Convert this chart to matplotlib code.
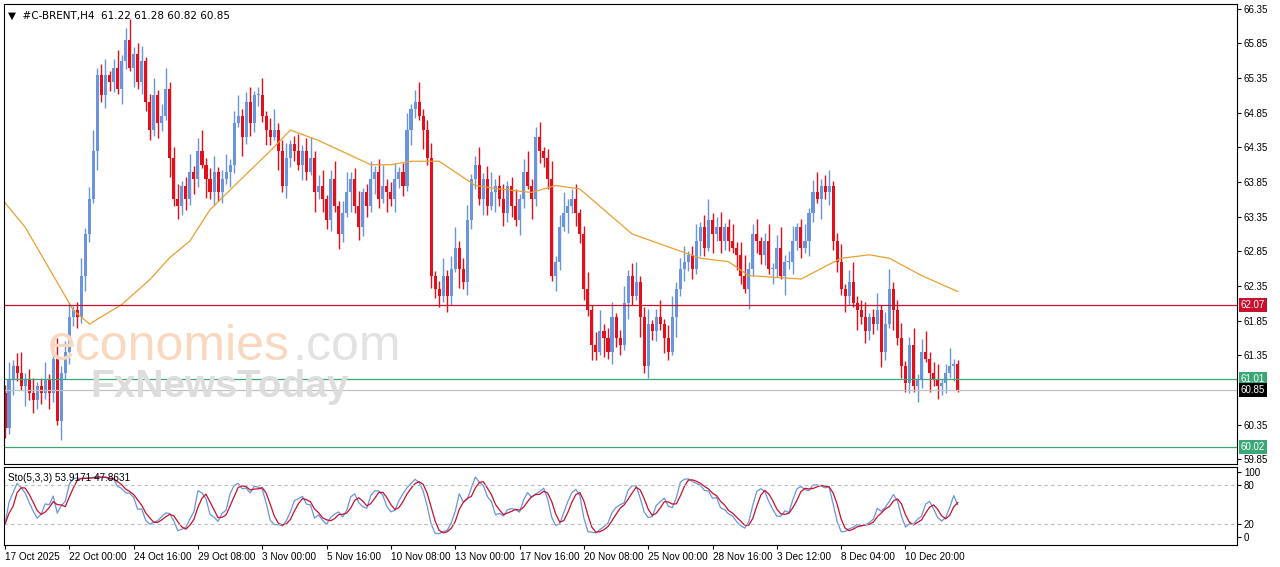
import numpy as np
import pandas as pd
import matplotlib
matplotlib.use("Agg")
import matplotlib.pyplot as plt
from matplotlib.patches import Rectangle

closes = [
    60.3, 61.0, 61.2, 61.1, 60.9, 61.0, 60.8, 60.7, 60.9, 60.8,
    61.0, 60.8, 61.3, 60.4, 61.1, 61.4, 61.9, 62.0, 61.9, 62.5,
    63.1, 63.6, 64.3, 65.4, 65.1, 65.4, 65.3, 65.5, 65.2, 65.6,
    65.9, 65.5, 65.7, 65.3, 65.6, 65.0, 64.6, 65.1, 64.7, 64.8, 65.2,
    64.2, 63.6, 63.5, 63.8, 63.6, 64.0, 63.9, 64.3, 64.1, 63.9,
    63.7, 64.0, 63.7, 63.9, 64.0, 64.1, 64.7, 64.8, 64.5, 65.0,
    64.7, 65.1, 65.1, 64.8, 64.6, 64.5, 64.6, 64.3, 63.8, 64.2,
    64.4, 64.3, 64.1, 64.3, 64.0, 64.2, 63.7, 63.8, 63.6, 63.3, 63.9,
    63.5, 63.1, 63.4, 63.7, 63.9, 63.5, 63.2, 63.7, 63.5, 63.9,
    64.0, 63.6, 63.8, 63.7, 63.6, 63.9, 64.0, 63.8, 64.6, 64.9,
    65.0, 64.8, 64.6, 64.2, 62.5, 62.3, 62.2, 62.5, 62.2, 62.6,
    62.9, 62.6, 62.4, 63.3, 63.9, 64.1, 63.6, 63.9, 63.5, 63.7, 63.8,
    63.6, 63.4, 63.8, 63.5, 63.3, 63.6, 64.0, 63.8, 63.6, 64.5,
    64.3, 64.2, 63.9, 62.5, 62.7, 63.2, 63.4, 63.5, 63.6, 63.4,
    63.1, 62.3, 62.0, 61.5, 61.4, 61.7, 61.6, 61.4, 61.9, 61.6,
    61.5, 62.1, 62.5, 62.2, 62.4, 61.9, 61.2, 61.8, 61.7, 61.9, 61.8,
    61.6, 61.4, 61.9, 62.3, 62.6, 62.7, 62.8, 62.6, 63.0, 63.2,
    62.9, 63.3, 63.1, 63.2, 63.0, 63.2, 63.0, 62.9, 62.8, 62.5,
    62.3, 62.6, 63.1, 63.0, 62.8, 63.0, 62.6, 62.6, 62.9, 62.5, 62.7,
    62.7, 63.0, 63.2, 62.9, 63.0, 63.4, 63.7, 63.6, 63.8, 63.7,
    63.8, 63.0, 62.7, 62.3, 62.2, 62.4, 62.1, 62.0, 61.9, 61.7,
    61.9, 61.8, 62.0, 61.4, 61.8, 62.3, 62.0, 61.6, 61.2, 60.95, 61.5,
    60.9, 61.0, 61.4, 61.3, 61.1, 61.0, 60.9, 60.95, 61.1, 61.2, 61.22, 60.85,
]
first_open = 60.8
up_wicks = [0.12, 0.25, 0.08, 0.18, 0.30, 0.10, 0.15, 0.22, 0.06]
down_wicks = [0.15, 0.08, 0.22, 0.12, 0.05, 0.28, 0.10, 0.18, 0.13]
last_ohlc = [61.22, 61.28, 60.82, 60.85]

ma_idx = [0, 5, 11, 17, 21, 29, 36, 41, 46, 51, 58, 66, 71, 78, 91, 96, 101, 108, 117,
          123, 131, 137, 143, 148, 156, 173, 180, 185, 198, 208, 215, 220, 228, 237]
ma_val = [63.55, 63.2, 62.6, 62.0, 61.8, 62.08, 62.44, 62.76, 63.0, 63.45, 63.85, 64.3,
          64.6, 64.45, 64.1, 64.1, 64.15, 64.15, 63.8, 63.75, 63.7, 63.8, 63.75, 63.5,
          63.1, 62.75, 62.7, 62.5, 62.45, 62.75, 62.8, 62.75, 62.5, 62.27]

tick_labels = ["17 Oct 2025", "22 Oct 00:00", "24 Oct 16:00", "29 Oct 08:00", "3 Nov 00:00",
               "5 Nov 16:00", "10 Nov 08:00", "13 Nov 00:00", "17 Nov 16:00", "20 Nov 08:00",
               "25 Nov 00:00", "28 Nov 16:00", "3 Dec 12:00", "8 Dec 04:00", "10 Dec 20:00"]
levels = {"62.07": (62.07, "#c8102e"), "61.01": (61.01, "#3aa876"),
          "60.85": (60.85, "#c0c0c0"), "60.02": (60.02, "#3aa876")}
price_ticks = [59.85, 60.35, 61.35, 61.85, 62.35, 62.85, 63.35, 63.85, 64.35, 64.85,
               65.35, 65.85, 66.35]

FONT = ["Liberation Sans", "DejaVu Sans"]
plt.rcParams["font.family"] = FONT

n = len(closes)
c = np.array(closes)
o = np.concatenate([[first_open], c[:-1]])
uw = np.array([up_wicks[i % len(up_wicks)] for i in range(n)])
dw = np.array([down_wicks[i % len(down_wicks)] for i in range(n)])
h = np.maximum(o, c) + uw
l = np.minimum(o, c) - dw
o[-1], h[-1], l[-1], c[-1] = last_ohlc

W, H = 1280, 567
fig = plt.figure(figsize=(12.8, 5.67), dpi=100)
fig.patch.set_facecolor("white")
px = 4.02
x0 = 5
left = 4 / W
width = 1233 / W
xmin = -(x0 - 4) / px
xmax = xmin + 1233 / px

ax = fig.add_axes([left, (H - 464) / H, width, 460 / H])
ax2 = fig.add_axes([left, (H - 545) / H, width, 78 / H])

# watermark
fig.text(48 / W, 1 - 347 / H, "economies", fontsize=36, color="#fad8bf", va="center", ha="left", zorder=0)
fig.text(292 / W, 1 - 347 / H, ".com", fontsize=36, color="#e2e2e2", va="center", ha="left", zorder=0)
fig.text(90 / W, 1 - 387 / H, "FxNewsToday", fontsize=28, color="#dddddd", va="center", ha="left",
         zorder=0, fontweight="bold")
ax.patch.set_alpha(0)

BLUE = "#6a95dd"
RED = "#e3101c"
for i in range(n):
    col = BLUE if c[i] >= o[i] else RED
    ax.vlines(i, l[i], h[i], color=col, lw=1.0)
    b0, b1 = min(o[i], c[i]), max(o[i], c[i])
    ax.add_patch(Rectangle((i - 0.38, b0), 0.76, max(b1 - b0, 0.015), color=col, lw=0))

ax.plot(ma_idx, ma_val, color="#e8a030", lw=0.9)

for k, (v, col) in levels.items():
    ax.axhline(v, color=col, lw=0.9)
    bg = "black" if k == "60.85" else col
    ax.text(1.003, v, k, transform=ax.get_yaxis_transform(), fontsize=7, color="white",
            va="center", ha="left", bbox=dict(facecolor=bg, edgecolor="none", pad=1.5), zorder=5, clip_on=False)

ax.set_xlim(xmin, xmax)
ax.set_ylim(59.78, 66.42)
ax.yaxis.tick_right()
ax.set_yticks(price_ticks)
ax.set_yticklabels([f"{v:.2f}" for v in price_ticks], fontsize=7)
ax.tick_params(axis="y", length=3, pad=2)
ax.set_xticks([])
for s in ax.spines.values():
    s.set_linewidth(0.8)

ax.text(0.003, 0.985, "▼  #C-BRENT,H4  61.22 61.28 60.82 60.85", transform=ax.transAxes,
        fontsize=7.5, va="top", ha="left", family=["DejaVu Sans"])

# stochastic
df = pd.DataFrame({"h": h, "l": l, "c": c})
ll = df["l"].rolling(5, min_periods=1).min()
hh = df["h"].rolling(5, min_periods=1).max()
num = (df["c"] - ll).rolling(3, min_periods=1).sum()
den = (hh - ll).rolling(3, min_periods=1).sum()
K = 100 * num / den
D = K.rolling(3, min_periods=1).mean()
idx = np.arange(n)
ax2.plot(idx, K, color="#6a95dd", lw=0.9)
ax2.plot(idx, D, color="#c8102e", lw=0.9)
for v in (20, 80):
    ax2.axhline(v, color="#bbbbbb", lw=0.8, ls=(0, (3, 3)))
ax2.set_xlim(xmin, xmax)
ax2.set_ylim(-12.3, 107.7)
ax2.yaxis.tick_right()
ax2.set_yticks([0, 20, 80, 100])
ax2.set_yticklabels(["0", "20", "80", "100"], fontsize=7)
ax2.tick_params(axis="y", length=3, pad=2)
ax2.set_xticks([16 * k for k in range(len(tick_labels))])
ax2.set_xticklabels(tick_labels, fontsize=7.2, ha="left")
ax2.tick_params(axis="x", length=3, pad=2)
for s in ax2.spines.values():
    s.set_linewidth(0.8)
ax2.text(0.003, 0.92, "Sto(5,3,3) 53.9171 47.8631", transform=ax2.transAxes,
         fontsize=7.2, va="top", ha="left")

fig.savefig("out.png", dpi=100)
